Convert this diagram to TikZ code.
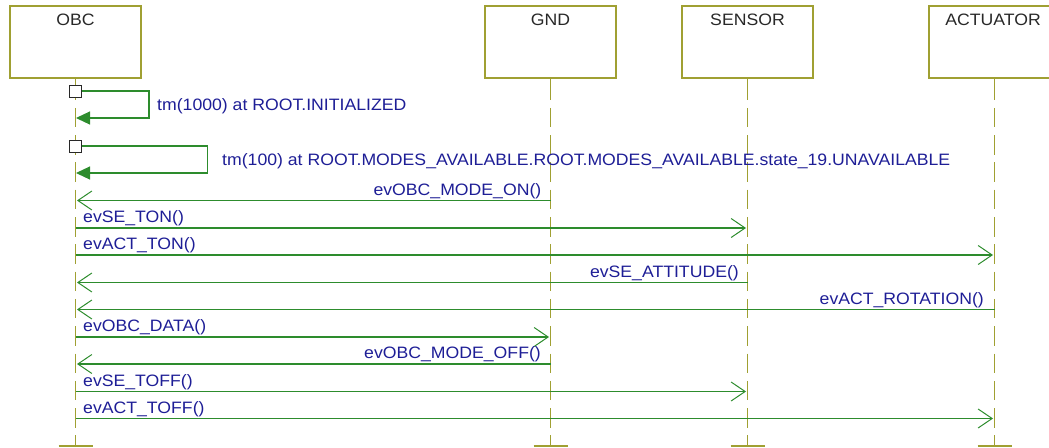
\documentclass[tikz,border=0pt]{standalone}
\usepackage{fontspec}
\setmainfont{Liberation Sans}[FakeStretch=1.07]
\usetikzlibrary{arrows.meta}

\definecolor{lifeolive}{RGB}{160,160,50}
\definecolor{msggreen}{RGB}{45,140,45}
\definecolor{labelnavy}{RGB}{30,30,150}
\definecolor{titlegray}{RGB}{40,40,40}

\tikzset{
  actorbox/.style={draw=lifeolive, line width=1.3pt, minimum width=131pt, minimum height=72pt, inner sep=0pt},
  actortitle/.style={font=\fontsize{16.5}{19}\selectfont, text=titlegray, inner sep=0pt, anchor=base},
  lifesolid/.style={draw=lifeolive, line width=1.4pt},
  lifedash/.style={draw=lifeolive, line width=1.4pt, dash pattern=on 19.5pt off 7.8pt, dash phase=19.5pt},
  endbar/.style={draw=lifeolive, line width=1.4pt},
  msg/.style={draw=msggreen, line width=1.2pt, shorten >=1.5pt,
    -{Straight Barb[length=14pt,width=19pt,line width=1pt]}},
  selfmsg/.style={draw=msggreen, line width=1.2pt,
    -{Triangle[length=14pt,width=13pt]}},
  startsq/.style={draw=titlegray, fill=white, line width=1pt, minimum size=12pt, inner sep=0pt},
  lbl/.style={font=\fontsize{16.5}{19}\selectfont, text=labelnavy, inner sep=0pt}
}

\begin{document}
\begin{tikzpicture}[x=1pt, y=-1pt]
\useasboundingbox (0,0) rectangle (1049,447);
\clip (0,0) rectangle (1049,447);

% actor boxes
\node[actorbox] (obc) at (75.5,42) {};
\node[actorbox] (gnd) at (550.5,42) {};
\node[actorbox] (sensor) at (747.5,42) {};
\node[actorbox] (act) at (994.5,42) {};
\node[actortitle] (obcT) at (75.5,25) {OBC};
\node[actortitle] (gndT) at (550.5,25) {GND};
\node[actortitle] (sensorT) at (747.5,25) {SENSOR};
\node[actortitle] (actT) at (993,25) {ACTUATOR};

% lifeline levels
\coordinate (ls) at (0,100);
\coordinate (le) at (0,446);

% lifelines with end bars
\foreach \a in {obc,gnd,sensor,act}{
  \draw[lifesolid] (\a.south) -- (\a.south |- ls);
  \draw[lifedash] (\a.south |- ls) -- (\a.south |- le);
  \draw[endbar] ([xshift=-17pt]\a.south |- le) -- ([xshift=17pt]\a.south |- le);
}

% message levels
\coordinate (m1) at (0,200.5);
\coordinate (m2) at (0,228);
\coordinate (m3) at (0,255);
\coordinate (m4) at (0,282.5);
\coordinate (m5) at (0,309.5);
\coordinate (m6) at (0,337);
\coordinate (m7) at (0,364);
\coordinate (m8) at (0,391.5);
\coordinate (m9) at (0,418.5);

% timer self messages
\node[startsq] (s1) at (75,91) {};
\coordinate (c1) at (149,118);
\draw[selfmsg] (s1.east) -| (c1) -- ([xshift=0.5pt]obc.south |- c1);
\node[startsq] at (75,91) {};
\node[lbl, anchor=base west] (t1) at (157,110) {tm(1000) at ROOT.INITIALIZED};

\node[startsq] (s2) at (75,146) {};
\coordinate (c2) at (207.5,173);
\draw[selfmsg] (s2.east) -| (c2) -- ([xshift=0.5pt]obc.south |- c2);
\node[startsq] at (75,146) {};
\node[lbl, anchor=base west] (t2) at (222,165) {tm(100) at ROOT.MODES\_AVAILABLE.ROOT.MODES\_AVAILABLE.state\_19.UNAVAILABLE};

% messages
\draw[msg] (gnd.south |- m1) -- (obc.south |- m1);
\node[lbl, anchor=base east] (l1) at (541.5,195) {evOBC\_MODE\_ON()};

\draw[msg] (obc.south |- m2) -- (sensor.south |- m2);
\node[lbl, anchor=base west] (l2) at (83,222.5) {evSE\_TON()};

\draw[msg] (obc.south |- m3) -- (act.south |- m3);
\node[lbl, anchor=base west] (l3) at (83,249.5) {evACT\_TON()};

\draw[msg] (sensor.south |- m4) -- (obc.south |- m4);
\node[lbl, anchor=base east] (l4) at (739,277) {evSE\_ATTITUDE()};

\draw[msg] (act.south |- m5) -- (obc.south |- m5);
\node[lbl, anchor=base east] (l5) at (984,304) {evACT\_ROTATION()};

\draw[msg] (obc.south |- m6) -- (gnd.south |- m6);
\node[lbl, anchor=base west] (l6) at (83,331.5) {evOBC\_DATA()};

\draw[msg] (gnd.south |- m7) -- (obc.south |- m7);
\node[lbl, anchor=base east] (l7) at (541,358.5) {evOBC\_MODE\_OFF()};

\draw[msg] (obc.south |- m8) -- (sensor.south |- m8);
\node[lbl, anchor=base west] (l8) at (83,386) {evSE\_TOFF()};

\draw[msg] (obc.south |- m9) -- (act.south |- m9);
\node[lbl, anchor=base west] (l9) at (83,413) {evACT\_TOFF()};
\end{tikzpicture}
\end{document}
